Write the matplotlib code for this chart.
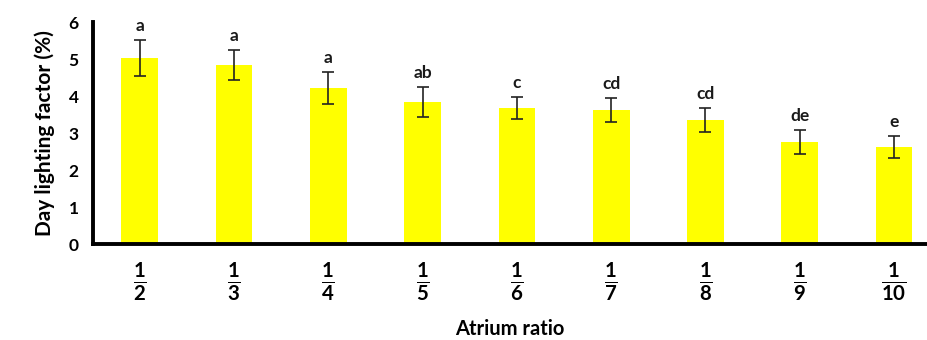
import matplotlib
matplotlib.use('Agg')
import matplotlib.pyplot as plt
import numpy as np

plt.rcParams['font.family'] = ['Lato', 'DejaVu Sans']
plt.rcParams['mathtext.fontset'] = 'custom'
plt.rcParams['mathtext.rm'] = 'Lato'
plt.rcParams['mathtext.bf'] = 'Lato:bold'

# data
denominators = ['2', '3', '4', '5', '6', '7', '8', '9', '10']
daylight = [5.03, 4.84, 4.22, 3.84, 3.68, 3.62, 3.35, 2.76, 2.62]
errors = [0.48, 0.40, 0.42, 0.41, 0.30, 0.32, 0.33, 0.32, 0.29]
letters = ['a', 'a', 'a', 'ab', 'c', 'cd', 'cd', 'de', 'e']

fig = plt.figure(figsize=(9.27, 3.4), dpi=100)
ax = fig.add_axes([0.100, 0.282, 0.900, 0.653])

x = np.arange(len(denominators))
ax.bar(x, daylight, width=0.39, color='#FFFF00', zorder=2)
ax.errorbar(x, daylight, yerr=errors, fmt='none', ecolor='#222222',
            elinewidth=1.2, capsize=4, capthick=1.2, zorder=3)

for xi, v, e, lab in zip(x, daylight, errors, letters):
    ax.text(xi, v + e + 0.38, lab, ha='center', va='center',
            fontsize=12.5, fontweight='bold', color='#1a1a1a')

ax.set_xlim(-0.5, 8.35)
ax.set_ylim(0, 6)
ax.set_yticks(range(0, 7))
ax.set_xticks(x)
ax.set_xticklabels([r'$\frac{\mathbf{1}}{\mathbf{%s}}$' % d for d in denominators],
                   fontsize=21)
ax.tick_params(axis='x', length=0, pad=12)
ax.tick_params(axis='y', length=0, pad=10, labelsize=12.5)
for t in ax.get_yticklabels():
    t.set_fontweight('bold')

for side in ['top', 'right']:
    ax.spines[side].set_visible(False)
for side in ['left', 'bottom']:
    ax.spines[side].set_linewidth(2.8)
    ax.spines[side].set_color('black')

ax.set_ylabel('Day lighting factor (%)', fontsize=15, fontweight='bold', labelpad=10)
ax.set_xlabel('Atrium ratio', fontsize=14.5, fontweight='bold', labelpad=11)

fig.savefig('out.png', dpi=100)
